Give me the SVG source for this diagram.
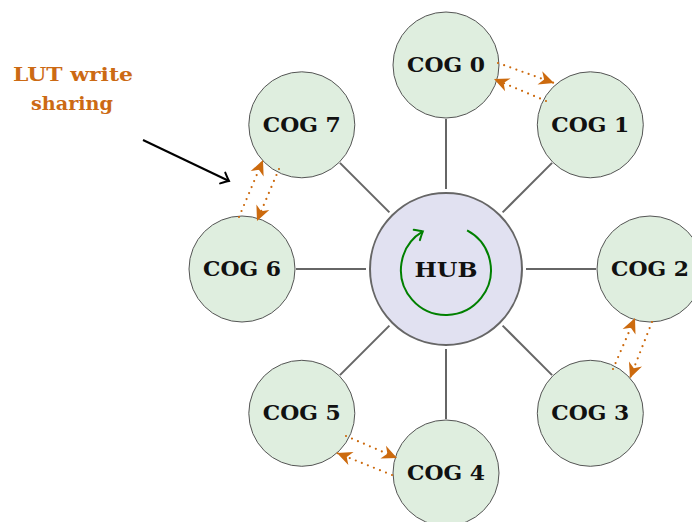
<svg xmlns="http://www.w3.org/2000/svg" width="692" height="522" viewBox="0 0 692 522">
<style>
.cog{fill:#dfeedf;stroke:#555;stroke-width:1}
.hub{fill:#e1e1f1;stroke:#666;stroke-width:2}
.spoke{stroke:#666;stroke-width:2;fill:none}
.lbl{font-family:"DejaVu Serif","Liberation Serif",serif;font-weight:bold;font-size:19.5px;fill:#111;text-anchor:middle}
.lut{font-family:"DejaVu Serif","Liberation Serif",serif;font-weight:bold;font-size:18px;fill:#cc6a14;text-anchor:middle}
.dot{stroke:#cc6a0e;stroke-width:2.2;stroke-linecap:round;stroke-dasharray:0 6.5;fill:none;marker-end:url(#stealth)}
</style>
<defs>
<marker id="stealth" viewBox="-17 -8 19 16" refX="0" refY="0" markerWidth="19" markerHeight="16" markerUnits="userSpaceOnUse" orient="auto">
<path d="M0,0 L-15,-7 L-10.5,0 L-15,7 Z" fill="#cc6a0e"/>
</marker>
<marker id="openG" viewBox="-10 -8 12 16" refX="0" refY="0" markerWidth="12" markerHeight="16" markerUnits="userSpaceOnUse" orient="auto">
<path d="M-7,-6 Q-2,-1.5 0,0 Q-2,1.5 -7,6" fill="none" stroke="#008000" stroke-width="2" stroke-linecap="round"/>
</marker>
<marker id="openK" viewBox="-10 -8 12 16" refX="0" refY="0" markerWidth="12" markerHeight="16" markerUnits="userSpaceOnUse" orient="auto">
<path d="M-7,-6 Q-2,-1.5 0,0 Q-2,1.5 -7,6" fill="none" stroke="#000" stroke-width="2" stroke-linecap="round"/>
</marker>
</defs>
<rect width="692" height="522" fill="#fff"/>
<g id="connectors">
<line class="spoke" x1="446" y1="189" x2="446" y2="119"/>
<line class="spoke" x1="502.6" y1="212.4" x2="552.1" y2="162.9"/>
<line class="spoke" x1="526" y1="269" x2="596" y2="269"/>
<line class="spoke" x1="502.6" y1="325.6" x2="552.1" y2="375.1"/>
<line class="spoke" x1="446" y1="349" x2="446" y2="419"/>
<line class="spoke" x1="389.4" y1="325.6" x2="339.9" y2="375.1"/>
<line class="spoke" x1="366" y1="269" x2="296" y2="269"/>
<line class="spoke" x1="389.4" y1="212.4" x2="339.9" y2="162.9"/>
</g>
<g id="hub">
<circle class="hub" cx="446" cy="269" r="76"/>
<path d="M467.1,230.3 A45,45 0 1 1 422.8,231.4" fill="none" stroke="#008000" stroke-width="2" marker-end="url(#openG)"/>
<text class="lbl" x="446" y="277" textLength="63" lengthAdjust="spacingAndGlyphs">HUB</text>
</g>
<g id="cog0"><circle class="cog" cx="446" cy="65" r="53"/><text class="lbl" x="446" y="72" textLength="78" lengthAdjust="spacingAndGlyphs">COG 0</text></g>
<g id="cog1"><circle class="cog" cx="590.3" cy="124.8" r="53"/><text class="lbl" x="590.3" y="132" textLength="78" lengthAdjust="spacingAndGlyphs">COG 1</text></g>
<g id="cog2"><circle class="cog" cx="650" cy="269" r="53"/><text class="lbl" x="650" y="276" textLength="78" lengthAdjust="spacingAndGlyphs">COG 2</text></g>
<g id="cog3"><circle class="cog" cx="590.3" cy="413.3" r="53"/><text class="lbl" x="590.3" y="420" textLength="78" lengthAdjust="spacingAndGlyphs">COG 3</text></g>
<g id="cog4"><circle class="cog" cx="446" cy="473" r="53"/><text class="lbl" x="446" y="480" textLength="78" lengthAdjust="spacingAndGlyphs">COG 4</text></g>
<g id="cog5"><circle class="cog" cx="301.8" cy="413.3" r="53"/><text class="lbl" x="301.8" y="420" textLength="78" lengthAdjust="spacingAndGlyphs">COG 5</text></g>
<g id="cog6"><circle class="cog" cx="242" cy="269" r="53"/><text class="lbl" x="242" y="276" textLength="78" lengthAdjust="spacingAndGlyphs">COG 6</text></g>
<g id="cog7"><circle class="cog" cx="301.8" cy="124.8" r="53"/><text class="lbl" x="301.8" y="132" textLength="78" lengthAdjust="spacingAndGlyphs">COG 7</text></g>
<g id="lut-arrows">
<line class="dot" x1="498" y1="63" x2="554" y2="83"/>
<line class="dot" x1="546" y1="101" x2="494" y2="79"/>
<line class="dot" x1="279" y1="169" x2="257" y2="221"/>
<line class="dot" x1="239" y1="217" x2="263" y2="160"/>
<line class="dot" x1="613" y1="369" x2="635" y2="318"/>
<line class="dot" x1="652" y1="322" x2="630" y2="378"/>
<line class="dot" x1="346" y1="436" x2="397" y2="458"/>
<line class="dot" x1="392" y1="475" x2="337" y2="453"/>
</g>
<g id="lut-label">
<text class="lut" x="73" y="81" textLength="120" lengthAdjust="spacingAndGlyphs">LUT write</text>
<text class="lut" x="72" y="110" textLength="82" lengthAdjust="spacingAndGlyphs">sharing</text>
<line x1="143" y1="140" x2="229" y2="181" stroke="#000" stroke-width="2" marker-end="url(#openK)"/>
</g>
</svg>
